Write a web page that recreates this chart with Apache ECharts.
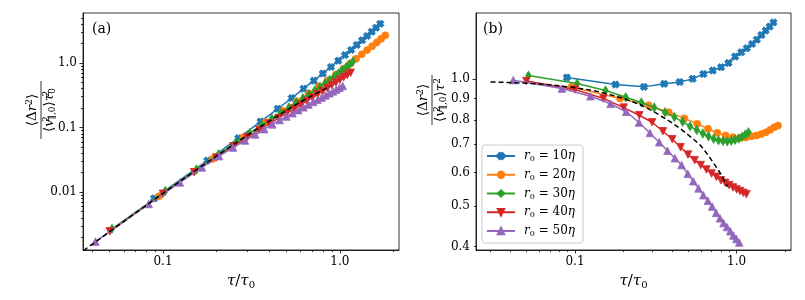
<!DOCTYPE html>
<html><head><meta charset="utf-8">
<script src="https://cdn.jsdelivr.net/npm/echarts@6/dist/echarts.min.js"></script>
<style>html,body{margin:0;padding:0;background:#fff}#c{width:805px;height:300px}</style>
</head><body><div id="c"></div>
<script>
// ---------------- data ----------------
const seriesNames = ['r0 = 10η','r0 = 20η','r0 = 30η','r0 = 40η','r0 = 50η'];
const tauBlue = [0.089,0.178,0.267,0.356,0.445,0.534,0.623,0.712,0.801,0.890,0.979,1.068,1.157,1.246,1.335,1.424,1.513,1.602,1.691];
const msdBlue = [0.00799,0.0308,0.0684,0.1236,0.1951,0.2857,0.3994,0.5318,0.6852,0.8658,1.085,1.322,1.590,1.900,2.240,2.620,3.040,3.500,4.030];
const ratioBlue = [1.009,0.971,0.959,0.975,0.985,1.002,1.029,1.049,1.068,1.093,1.132,1.159,1.185,1.213,1.242,1.274,1.305,1.334,1.365];

const tauOrange = [0.095,0.190,0.285,0.380,0.475,0.570,0.665,0.760,0.855,0.950,1.045,1.140,1.235,1.330,1.425,1.520,1.615,1.710,1.805];
const msdOrange = [0.00866,0.0325,0.0704,0.1206,0.1821,0.2547,0.3370,0.4309,0.5373,0.665,0.810,0.975,1.160,1.360,1.580,1.815,2.075,2.360,2.680];
const ratioOrange = [0.959,0.900,0.867,0.835,0.807,0.784,0.762,0.746,0.735,0.728,0.725,0.727,0.732,0.735,0.741,0.748,0.758,0.769,0.776];

const tauGreen = [0.0515,0.103,0.1545,0.206,0.2575,0.309,0.3605,0.412,0.4635,0.515,0.5665,0.618,0.6695,0.721,0.7725,0.824,0.8755,0.927,0.9785,1.030,1.0815,1.133,1.1845];
const msdGreen = [0.002705,0.01037,0.02244,0.03845,0.05835,0.08183,0.1085,0.1380,0.1701,0.2050,0.2429,0.2838,0.3281,0.3753,0.4273,0.4841,0.5457,0.6136,0.6875,0.7670,0.8538,0.9486,1.0495];
const ratioGreen = [1.020,0.977,0.940,0.906,0.880,0.857,0.835,0.813,0.792,0.773,0.757,0.743,0.732,0.722,0.716,0.713,0.712,0.714,0.718,0.723,0.730,0.739,0.748];

const tauRed = [0.05,0.10,0.15,0.20,0.25,0.30,0.35,0.40,0.45,0.50,0.55,0.60,0.65,0.70,0.75,0.80,0.85,0.90,0.95,1.00,1.05,1.10,1.15];
const msdRed = [0.002475,0.00945,0.02025,0.03424,0.05131,0.0711,0.09212,0.1152,0.1395,0.1655,0.1942,0.2250,0.2577,0.2925,0.3296,0.3680,0.4097,0.4536,0.4991,0.5470,0.5976,0.6498,0.7049];
const ratioRed = [0.990,0.945,0.900,0.856,0.821,0.790,0.752,0.720,0.689,0.662,0.642,0.625,0.610,0.597,0.586,0.575,0.567,0.560,0.553,0.547,0.542,0.537,0.533];

const tauPurple = [0.0415,0.083,0.1245,0.166,0.2075,0.249,0.2905,0.332,0.3735,0.415,0.4565,0.498,0.5395,0.581,0.6225,0.664,0.7055,0.747,0.7885,0.830,0.8715,0.913,0.9545,0.996,1.0375];
const msdPurple = [0.001714,0.006545,0.01412,0.02408,0.03604,0.04892,0.06287,0.07804,0.09430,0.1118,0.1302,0.1478,0.1665,0.1857,0.2054,0.2266,0.2479,0.2684,0.2903,0.3135,0.3380,0.3626,0.3872,0.4137,0.4403];
const ratioPurple = [0.995,0.950,0.911,0.874,0.837,0.789,0.745,0.708,0.676,0.649,0.625,0.596,0.572,0.550,0.530,0.514,0.498,0.481,0.467,0.455,0.445,0.435,0.425,0.417,0.409];

const tauFit = [0.03,0.04,0.05,0.07,0.1,0.13,0.16,0.2,0.25,0.3,0.35,0.4,0.45,0.5,0.55,0.6,0.65,0.7,0.75,0.8,0.85,0.88];
const msdFit = [0.000887,0.001571,0.002445,0.004753,0.00955,0.01589,0.02360,0.0360,0.0545,0.07578,0.09947,0.1259,0.1543,0.1845,0.2166,0.2502,0.2822,0.3146,0.3471,0.3808,0.4104,0.4298];
const ratioFit = [0.985,0.982,0.978,0.970,0.955,0.940,0.922,0.900,0.872,0.842,0.812,0.787,0.762,0.738,0.716,0.695,0.668,0.642,0.617,0.595,0.568,0.555];

// ticks
const xMajorVals = [0.1, 1.0];
const xMajorLabels = ['0.1', '1.0'];
const xMinorA = [0.04,0.05,0.06,0.07,0.08,0.09,0.2,0.3,0.4,0.5,0.6,0.7,0.8,0.9,2];
const xMinorB = [0.03,0.04,0.05,0.06,0.07,0.08,0.09,0.2,0.3,0.4,0.5,0.6,0.7,0.8,0.9,2];
const yMajorValsA = [0.01, 0.1, 1.0];
const yMajorLabelsA = ['0.01', '0.1', '1.0'];
const yMinorA = [0.002,0.003,0.004,0.005,0.006,0.007,0.008,0.009,0.02,0.03,0.04,0.05,0.06,0.07,0.08,0.09,0.2,0.3,0.4,0.5,0.6,0.7,0.8,0.9,2,3,4,5];
const yMajorValsB = [1.0];
const yMinorValsB = [0.4,0.5,0.6,0.7,0.8,0.9];
const yLabelValsB = [0.4,0.5,0.6,0.7,0.8,0.9,1.0];
const yLabelsB = ['0.4','0.5','0.6','0.7','0.8','0.9','1.0'];

// axis ranges (tau/tau0 and y values)
const rangeA = {x:[0.0353, 2.158], y:[0.00127, 5.93]};
const rangeB = {x:[0.0244, 2.17], y:[0.3926, 1.437]};

// ---------------- build ----------------
const L = Math.log10;
const FONT = 'DejaVu Serif';
const COLORS = ['#1f77b4','#ff7f0e','#2ca02c','#d62728','#9467bd'];
const X_PATH = 'path://M0,3L3,0L5,2L7,0L10,3L8,5L10,7L7,10L5,8L3,10L0,7L2,5Z';
const markers = [
  {symbol: X_PATH, size: 7.5, rot: 0},
  {symbol: 'circle', size: 7, rot: 0},
  {symbol: 'diamond', size: [5.5, 9], rot: 0},
  {symbol: 'triangle', size: 7.5, rot: 180},
  {symbol: 'triangle', size: 7.5, rot: 0}
];
const taus = [tauBlue, tauOrange, tauGreen, tauRed, tauPurple];
const msds = [msdBlue, msdOrange, msdGreen, msdRed, msdPurple];
const ratios = [ratioBlue, ratioOrange, ratioGreen, ratioRed, ratioPurple];

function labeler(vals, labels){
  return function(v){
    for (let i=0;i<vals.length;i++){ if (Math.abs(L(vals[i]) - v) < 1e-6) return labels[i]; }
    return '';
  };
}
const labelStyle = {fontFamily: FONT, fontSize: 12, color: '#000'};
const tickLine = {color: '#000', width: 0.8};

function axisPair(dim, grid, range, majorVals, majorLabelVals, labels, minorVals, margin, nameOpt){
  const main = {
    type: 'value', gridIndex: grid, min: L(range[0]), max: L(range[1]),
    position: dim === 'x' ? 'bottom' : 'left',
    axisLine: {show: true, onZero: false, lineStyle: {color: '#000', width: 0.8}},
    axisTick: {show: true, inside: false, length: 3.5, lineStyle: tickLine, customValues: majorVals.map(L)},
    axisLabel: {show: true, margin: margin, customValues: majorLabelVals.map(L), formatter: labeler(majorLabelVals, labels), ...labelStyle},
    splitLine: {show: false}
  };
  if (nameOpt) Object.assign(main, nameOpt);
  const minor = {
    type: 'value', gridIndex: grid, min: L(range[0]), max: L(range[1]),
    position: dim === 'x' ? 'bottom' : 'left', offset: 0,
    axisLine: {show: false, onZero: false},
    axisTick: {show: true, inside: false, length: 2, lineStyle: tickLine, customValues: minorVals.map(L)},
    axisLabel: {show: false},
    splitLine: {show: false}
  };
  return [main, minor];
}

const xName = {
  name: '{i|τ}/{i|τ}{s|0}', nameLocation: 'middle', nameGap: 22,
  nameTextStyle: {fontFamily: FONT, fontSize: 15, color: '#000',
    rich: {i: {fontFamily: FONT, fontStyle: 'italic', fontSize: 15, color:'#000', lineHeight: 18},
           s: {fontFamily: FONT, fontSize: 10, color:'#000', verticalAlign: 'bottom', lineHeight: 12}}}
};

const xAxes = [
  ...axisPair('x', 0, rangeA.x, xMajorVals, xMajorVals, xMajorLabels, xMinorA, 6, xName),
  ...axisPair('x', 1, rangeB.x, xMajorVals, xMajorVals, xMajorLabels, xMinorB, 6, xName)
];
const yAxes = [
  ...axisPair('y', 0, rangeA.y, yMajorValsA, yMajorValsA, yMajorLabelsA, yMinorA, 6, null),
  ...axisPair('y', 1, rangeB.y, yMajorValsB, yLabelValsB, yLabelsB, yMinorValsB, 6, null)
];

const series = [];
for (let k = 0; k < 5; k++){
  const base = {
    name: seriesNames[k], type: 'line', symbol: markers[k].symbol, symbolSize: markers[k].size,
    symbolRotate: markers[k].rot, showSymbol: true, color: COLORS[k],
    lineStyle: {width: 1.5, color: COLORS[k]},
    itemStyle: {color: COLORS[k], borderColor: COLORS[k], borderWidth: 0.8},
    emphasis: {disabled: true}, z: 2 + k, animation: false
  };
  series.push(Object.assign({}, base, {xAxisIndex: 0, yAxisIndex: 0,
    data: taus[k].map((t, i) => [L(t), L(msds[k][i])])}));
  series.push(Object.assign({}, base, {xAxisIndex: 2, yAxisIndex: 2,
    data: taus[k].map((t, i) => [L(t), L(ratios[k][i])])}));
}
const fitBase = {type: 'line', showSymbol: false, symbol: 'none', z: 10, animation: false, silent: true,
  lineStyle: {color: '#000', width: 1.5, type: [5, 3]}};
series.push(Object.assign({}, fitBase, {name: 'fitA', xAxisIndex: 0, yAxisIndex: 0,
  data: tauFit.map((t, i) => [L(t), L(msdFit[i])])}));
series.push(Object.assign({}, fitBase, {name: 'fitB', xAxisIndex: 2, yAxisIndex: 2,
  data: tauFit.map((t, i) => [L(t), L(ratioFit[i])])}));

const FS = 13.5;
const fracRich = {
  i: {fontFamily: FONT, fontStyle: 'italic', fontSize: FS, fill: '#000', lineHeight: 15},
  sup: {fontFamily: FONT, fontSize: 9, fill: '#000', verticalAlign: 'top', lineHeight: 9},
  supz: {fontFamily: FONT, fontSize: 9, fill: '#000', verticalAlign: 'top', lineHeight: 9, width: 0},
  sub: {fontFamily: FONT, fontSize: 9, fill: '#000', verticalAlign: 'bottom', lineHeight: 9}
};
function fraction(cx, cy, numer, denom, half){
  return {
    type: 'group', x: cx, y: cy, rotation: Math.PI / 2,
    children: [
      {type: 'text', x: 0, y: -1, style: {text: numer, align: 'center', verticalAlign: 'bottom', rich: fracRich, fontFamily: FONT, fontSize: FS, lineHeight: 15, fill: '#000'}},
      {type: 'line', shape: {x1: -half, y1: 0, x2: half, y2: 0}, style: {stroke: '#000', lineWidth: 0.8}},
      {type: 'text', x: 0, y: 1, style: {text: denom, align: 'center', verticalAlign: 'top', rich: fracRich, fontFamily: FONT, fontSize: FS, lineHeight: 15, fill: '#000'}}
    ]
  };
}

const option = {
  backgroundColor: '#fff',
  animation: false,
  grid: [
    {left: 83, top: 13, width: 316, height: 237, show: true, borderColor: '#000', borderWidth: 0.8, backgroundColor: 'transparent'},
    {left: 476, top: 13, width: 315, height: 237, show: true, borderColor: '#000', borderWidth: 0.8, backgroundColor: 'transparent'}
  ],
  xAxis: xAxes,
  yAxis: yAxes,
  legend: {
    data: seriesNames, orient: 'vertical', left: 482, top: 145,
    itemWidth: 28, itemHeight: 8, itemGap: 4.75,
    padding: [4, 8, 5, 4], borderColor: '#ccc', borderWidth: 1, borderRadius: 3,
    backgroundColor: 'rgba(255,255,255,0.85)',
    formatter: function(name){ const m = name.match(/r0 = (\d+)η/); return '{i|r}{s|0} = ' + m[1] + '{i|η}'; },
    textStyle: {fontFamily: FONT, fontSize: 12, color: '#000', lineHeight: 14, padding: [0,0,0,4],
      rich: {i: {fontFamily: FONT, fontStyle: 'italic', fontSize: 12, color: '#000', lineHeight: 14},
             s: {fontFamily: FONT, fontSize: 8, color: '#000', verticalAlign: 'bottom', lineHeight: 9}}},
    selectedMode: false
  },
  graphic: [
    {type: 'text', x: 92, y: 22, style: {text: '(a)', fontFamily: FONT, fontSize: 14, fill: '#000'}},
    {type: 'text', x: 483, y: 22, style: {text: '(b)', fontFamily: FONT, fontSize: 14, fill: '#000'}},
    fraction(41, 110, '⟨Δ{i|r}{sup|2}⟩', '⟨{i|v}{supz|2}{sub|∥,0}⟩{i|τ}{supz|2}{sub|0}', 29),
    fraction(432, 100, '⟨Δ{i|r}{sup|2}⟩', '⟨{i|v}{supz|2}{sub|∥,0}⟩{i|τ}{sup|2}', 25)
  ],
  series: series
};
const chart = echarts.init(document.getElementById('c'), null, {renderer: 'canvas'});
chart.setOption(option);
</script></body></html>
